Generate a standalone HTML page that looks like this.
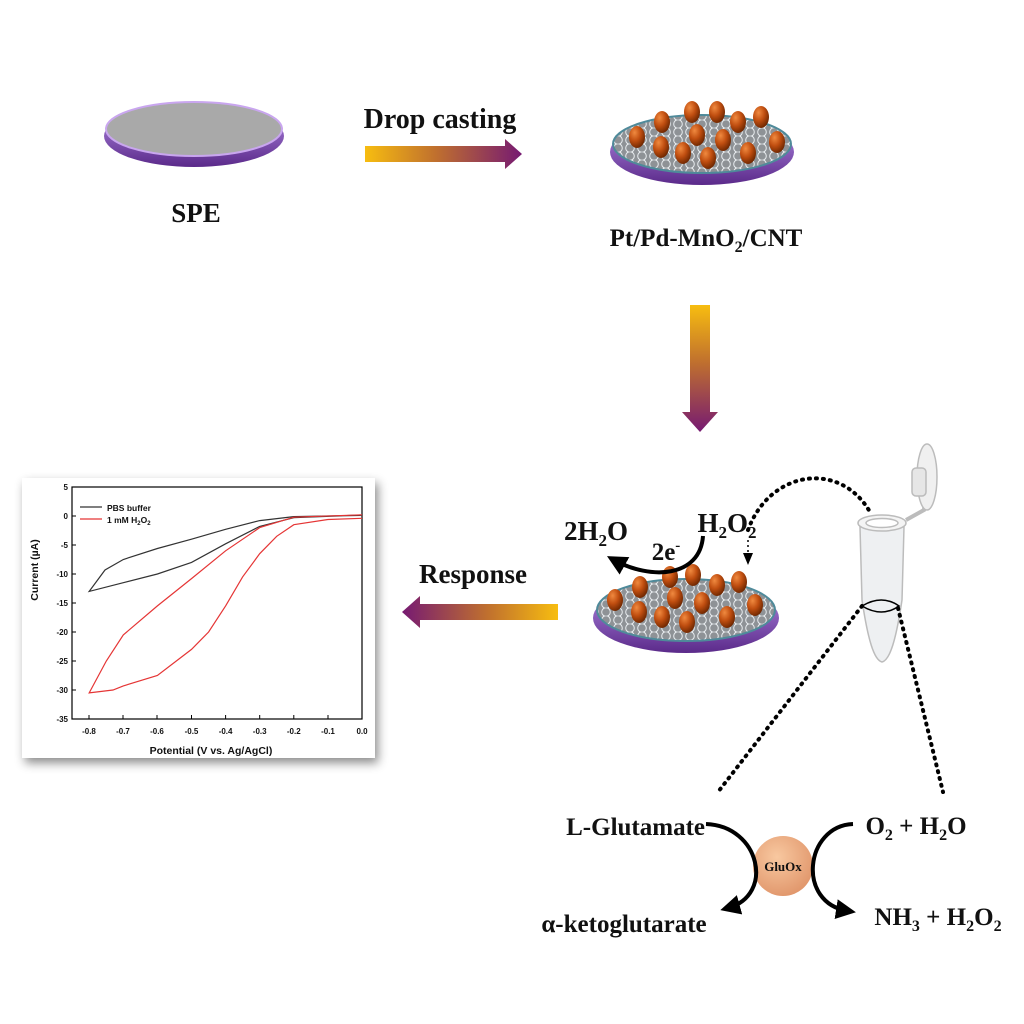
<!DOCTYPE html>
<html><head><meta charset="utf-8"><style>
html,body{margin:0;padding:0;background:#fff;}
svg{display:block;}
.t{font-family:"Liberation Serif",serif;font-weight:bold;fill:#111;}
.c{font-family:"Liberation Sans",sans-serif;font-weight:bold;fill:#111;}
</style></head><body>
<svg width="1024" height="1024" viewBox="0 0 1024 1024" xmlns="http://www.w3.org/2000/svg">
<defs>
<linearGradient id="gh" x1="0" x2="1" y1="0" y2="0"><stop offset="0" stop-color="#f7bd10"/><stop offset="0.45" stop-color="#c0702e"/><stop offset="1" stop-color="#761a72"/></linearGradient>
<linearGradient id="gh2" x1="1" x2="0" y1="0" y2="0"><stop offset="0" stop-color="#f7bd10"/><stop offset="0.45" stop-color="#c0702e"/><stop offset="1" stop-color="#761a72"/></linearGradient>
<linearGradient id="gv" x1="0" x2="0" y1="0" y2="1"><stop offset="0" stop-color="#f7bd10"/><stop offset="0.45" stop-color="#c0702e"/><stop offset="1" stop-color="#761a72"/></linearGradient>
<linearGradient id="rim" x1="0" x2="0" y1="0" y2="1"><stop offset="0" stop-color="#b58ee8"/><stop offset="1" stop-color="#5b2a8a"/></linearGradient>
<radialGradient id="egg" cx="0.35" cy="0.3" r="0.75"><stop offset="0" stop-color="#f08a40"/><stop offset="0.5" stop-color="#c04e10"/><stop offset="1" stop-color="#6a2500"/></radialGradient>
<radialGradient id="glu" cx="0.4" cy="0.35" r="0.7"><stop offset="0" stop-color="#f8c8a0"/><stop offset="1" stop-color="#e0956a"/></radialGradient>
<pattern id="hex" width="12" height="8" patternUnits="userSpaceOnUse"><rect width="12" height="8" fill="#8e9296"/><circle cx="6" cy="4" r="4.3" fill="none" stroke="#e8ecef" stroke-width="1"/></pattern>
<filter id="sh" x="-10%" y="-10%" width="120%" height="120%"><feDropShadow dx="3" dy="5" stdDeviation="5" flood-color="#000" flood-opacity="0.45"/></filter>
<marker id="ah" viewBox="0 0 10 10" refX="6" refY="5" markerWidth="5" markerHeight="5" orient="auto"><path d="M0,0 L10,5 L0,10 z" fill="#000"/></marker>
<g id="e"><ellipse cx="0" cy="0" rx="8" ry="11" fill="url(#egg)"/></g>
</defs>

<!-- SPE -->
<ellipse cx="194" cy="136" rx="90" ry="31" fill="url(#rim)"/>
<ellipse cx="194" cy="129" rx="88" ry="27" fill="#a9a9a9" stroke="#c9a6ef" stroke-width="2"/>
<text x="196" y="222" class="t" font-size="27" text-anchor="middle">SPE</text>

<text x="440" y="128" class="t" font-size="28" text-anchor="middle">Drop casting</text>
<path d="M365,146 L505,146 L505,139 L522,154 L505,169 L505,162 L365,162 z" fill="url(#gh)"/>

<!-- electrode 2 -->
<ellipse cx="702" cy="152" rx="92" ry="33" fill="url(#rim)"/>
<ellipse cx="702" cy="144" rx="89" ry="29" fill="url(#hex)" stroke="#4f8a9a" stroke-width="2"/>
<g>
<use href="#e" x="637" y="137"/><use href="#e" x="662" y="122"/><use href="#e" x="692" y="112"/><use href="#e" x="717" y="112"/><use href="#e" x="738" y="122"/><use href="#e" x="761" y="117"/><use href="#e" x="777" y="142"/><use href="#e" x="697" y="135"/><use href="#e" x="723" y="140"/><use href="#e" x="661" y="147"/><use href="#e" x="683" y="153"/><use href="#e" x="708" y="158"/><use href="#e" x="748" y="153"/>
</g>
<text x="706" y="246" class="t" font-size="25" text-anchor="middle">Pt/Pd-MnO<tspan font-size="16" dy="6">2</tspan><tspan dy="-6">/CNT</tspan></text>

<path d="M690,305 L710,305 L710,412 L718,412 L700,432 L682,412 L690,412 z" fill="url(#gv)"/>

<!-- electrode 3 -->
<ellipse cx="686" cy="618" rx="93" ry="35" fill="url(#rim)"/>
<ellipse cx="686" cy="610" rx="89" ry="31" fill="url(#hex)" stroke="#4f8a9a" stroke-width="2"/>
<g>
<use href="#e" x="615" y="600"/><use href="#e" x="640" y="587"/><use href="#e" x="670" y="577"/><use href="#e" x="693" y="575"/><use href="#e" x="717" y="585"/><use href="#e" x="739" y="582"/><use href="#e" x="675" y="598"/><use href="#e" x="702" y="603"/><use href="#e" x="755" y="605"/><use href="#e" x="639" y="612"/><use href="#e" x="662" y="617"/><use href="#e" x="687" y="622"/><use href="#e" x="727" y="617"/>
</g>
<path d="M703,536 C700,578 650,580 614,560" fill="none" stroke="#000" stroke-width="4" marker-end="url(#ah)"/>
<text x="596" y="540" class="t" font-size="27" text-anchor="middle">2H<tspan font-size="17" dy="6">2</tspan><tspan dy="-6">O</tspan></text>
<text x="666" y="560" class="t" font-size="25" text-anchor="middle">2e<tspan font-size="15" dy="-10">-</tspan></text>
<text x="727" y="532" class="t" font-size="27" text-anchor="middle">H<tspan font-size="17" dy="6">2</tspan><tspan dy="-6">O</tspan><tspan font-size="17" dy="6">2</tspan></text>
<path d="M748,530 C770,470 840,460 870,512" fill="none" stroke="#000" stroke-width="4" stroke-dasharray="1 6" stroke-linecap="round"/>
<path d="M748,540 L748,555" stroke="#000" stroke-width="1.5" stroke-dasharray="2 3"/>
<path d="M743,553 L753,553 L748,565 z" fill="#000"/>

<!-- left arrow -->
<path d="M558,604 L420,604 L420,596 L402,612 L420,628 L420,620 L558,620 z" fill="url(#gh2)"/>
<text x="473" y="583" class="t" font-size="27" text-anchor="middle">Response</text>

<!-- tube -->
<g stroke="#bcbcbc" stroke-width="1.5">
<path d="M860,527 L862,600 C868,640 874,660 882,662 C890,660 896,640 902,600 L904,527 z" fill="#eef0f2"/>
<ellipse cx="882" cy="523" rx="24" ry="8" fill="#f4f4f4"/>
<ellipse cx="882" cy="523" rx="16" ry="4.5" fill="#fff"/>
<path d="M906,520 L924,510 L926,490" fill="none" stroke-width="4"/>
<ellipse cx="927" cy="477" rx="10" ry="33" fill="#f0f0f0"/>
<rect x="912" y="468" width="14" height="28" rx="4" fill="#e6e6e6"/>
</g>
<path d="M862,606 Q882,594 899,606 Q882,618 862,606" fill="none" stroke="#000" stroke-width="1.5"/>
<path d="M862,606 L718,792" stroke="#000" stroke-width="4" stroke-dasharray="1 6" stroke-linecap="round"/>
<path d="M898,608 L943,792" stroke="#000" stroke-width="4" stroke-dasharray="1 6" stroke-linecap="round"/>

<!-- reaction -->
<circle cx="783" cy="866" r="30" fill="url(#glu)"/>
<text x="783" y="871" class="t" font-size="13" text-anchor="middle">GluOx</text>
<path d="M706,824 C760,826 775,895 728,908" fill="none" stroke="#000" stroke-width="4" marker-end="url(#ah)"/>
<path d="M853,824 C805,826 796,903 848,911" fill="none" stroke="#000" stroke-width="4" marker-end="url(#ah)"/>
<text x="705" y="835" class="t" font-size="25" text-anchor="end">L-Glutamate</text>
<text x="624" y="932" class="t" font-size="25" text-anchor="middle">α-ketoglutarate</text>
<text x="916" y="834" class="t" font-size="25" text-anchor="middle">O<tspan font-size="16" dy="6">2</tspan><tspan dy="-6"> + H</tspan><tspan font-size="16" dy="6">2</tspan><tspan dy="-6">O</tspan></text>
<text x="938" y="925" class="t" font-size="25" text-anchor="middle">NH<tspan font-size="16" dy="6">3</tspan><tspan dy="-6"> + H</tspan><tspan font-size="16" dy="6">2</tspan><tspan dy="-6">O</tspan><tspan font-size="16" dy="6">2</tspan></text>

<!-- chart -->
<rect x="22" y="478" width="353" height="280" fill="#fff" filter="url(#sh)"/>
<g stroke="#000" stroke-width="1.2" fill="none">
<rect x="72" y="487" width="290" height="232"/>
</g>
<g stroke="#000" stroke-width="1">
<path d="M72,487h4M72,516h4M72,545h4M72,574h4M72,603h4M72,632h4M72,661h4M72,690h4M72,719h4"/>
<path d="M89,719v-4M123,719v-4M157,719v-4M191.5,719v-4M225.6,719v-4M259.7,719v-4M293.8,719v-4M328,719v-4"/>
</g>
<g class="c" font-size="8" text-anchor="end">
<text x="68" y="490">5</text><text x="68" y="519">0</text><text x="68" y="548">-5</text><text x="68" y="577">-10</text><text x="68" y="606">-15</text><text x="68" y="635">-20</text><text x="68" y="664">-25</text><text x="68" y="693">-30</text><text x="68" y="722">-35</text>
</g>
<g class="c" font-size="8" text-anchor="middle">
<text x="89" y="734">-0.8</text><text x="123" y="734">-0.7</text><text x="157" y="734">-0.6</text><text x="191.5" y="734">-0.5</text><text x="225.6" y="734">-0.4</text><text x="259.7" y="734">-0.3</text><text x="293.8" y="734">-0.2</text><text x="328" y="734">-0.1</text><text x="362" y="734">0.0</text>
</g>
<text x="211" y="754" class="c" font-size="10.5" text-anchor="middle">Potential (V vs. Ag/AgCl)</text>
<text x="0" y="0" class="c" font-size="10.5" text-anchor="middle" transform="translate(38,570) rotate(-90)">Current (µA)</text>
<path d="M80,507h22" stroke="#333" stroke-width="1.3"/>
<text x="107" y="511" class="c" font-size="8.5">PBS buffer</text>
<path d="M80,519h22" stroke="#e53535" stroke-width="1.3"/>
<text x="107" y="523" class="c" font-size="8.5">1 mM H<tspan font-size="6" dy="2">2</tspan><tspan dy="-2">O</tspan><tspan font-size="6" dy="2">2</tspan></text>
<polyline fill="none" stroke="#333" stroke-width="1.2" points="362,515.4 293.8,516.6 259.7,520.6 225.6,529.3 191.5,539.2 157.4,548.5 123.3,559.5 105,570 89.2,591.4 123.3,582.7 157.4,574 191.5,562.4 225.6,543.8 259.7,526.4 293.8,517.7 362,515"/>
<polyline fill="none" stroke="#e53535" stroke-width="1.2" points="362,518.3 327.9,519.5 293.8,524.7 276.7,536.3 259.7,553.7 242.6,576.9 225.6,605.9 208.6,632 191.5,649.4 157.4,675.5 123.3,685.9 113,690 89.2,692.9 106.3,661 123.3,634.9 157.4,605.9 191.5,578.6 225.6,550.8 259.7,527.6 293.8,517.2 362,514.8"/>
</svg>
</body></html>
